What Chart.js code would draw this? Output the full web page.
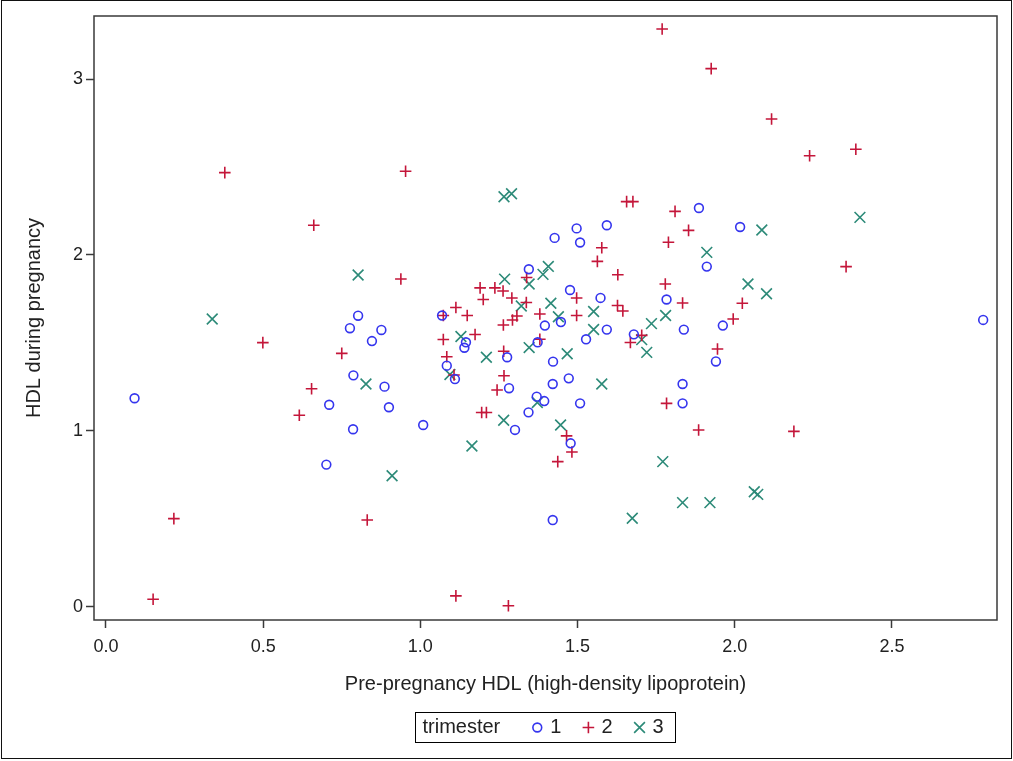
<!DOCTYPE html>
<html>
<head>
<meta charset="utf-8">
<title>HDL before and during pregnancy</title>
<script src="https://cdn.jsdelivr.net/npm/chart.js"></script>
<style>
  html, body { margin: 0; padding: 0; background: #fff; }
  #wrap { width: 1013px; height: 761px; }
</style>
</head>
<body>
<div id="wrap"><canvas id="hdlScatter" width="1013" height="761"></canvas></div>
<script>
// groups shown in the legend
const trimesters = ['1', '2', '3'];

// trimester 1 (pre-pregnancy HDL, HDL during pregnancy)
const tri1X = [0.091, 0.701, 0.710, 0.787, 0.776, 0.802, 0.786, 0.846, 0.876, 0.886, 0.900, 1.009, 1.069, 1.084, 1.110, 1.140, 1.145, 1.276, 1.282, 1.301, 1.345, 1.373, 1.396, 1.422, 1.421, 1.370, 1.394, 1.344, 1.427, 1.447, 1.476, 1.497, 1.508, 1.593, 1.573, 1.593, 1.527, 1.679, 1.472, 1.508, 1.478, 1.421, 1.783, 1.838, 1.834, 1.834, 1.886, 1.911, 1.962, 1.940, 2.017, 2.790];
const tri1Y = [1.186, 0.809, 1.149, 1.316, 1.584, 1.655, 1.010, 1.511, 1.574, 1.252, 1.135, 1.034, 1.656, 1.371, 1.295, 1.473, 1.504, 1.419, 1.243, 1.006, 1.919, 1.504, 1.599, 1.394, 1.267, 1.195, 1.170, 1.106, 2.097, 1.619, 1.801, 2.151, 2.071, 2.169, 1.756, 1.576, 1.521, 1.549, 1.299, 1.157, 0.930, 0.494, 1.747, 1.576, 1.267, 1.157, 2.267, 1.934, 1.599, 1.395, 2.159, 1.631];

// trimester 2
const tri2X = [0.150, 0.216, 0.378, 0.499, 0.615, 0.654, 0.661, 0.750, 0.831, 0.938, 0.953, 1.073, 1.073, 1.084, 1.107, 1.113, 1.113, 1.149, 1.174, 1.190, 1.200, 1.195, 1.210, 1.237, 1.263, 1.291, 1.244, 1.264, 1.265, 1.266, 1.280, 1.293, 1.307, 1.338, 1.337, 1.380, 1.380, 1.437, 1.465, 1.482, 1.497, 1.497, 1.563, 1.577, 1.628, 1.627, 1.644, 1.656, 1.676, 1.668, 1.704, 1.769, 1.779, 1.783, 1.789, 1.810, 1.834, 1.853, 1.885, 1.925, 1.945, 1.995, 2.024, 2.117, 2.188, 2.238, 2.354, 2.385];
const tri2Y = [0.044, 0.502, 2.468, 1.502, 1.089, 1.240, 2.169, 1.441, 0.494, 1.864, 2.476, 1.520, 1.656, 1.422, 1.318, 1.702, 0.063, 1.656, 1.548, 1.813, 1.747, 1.105, 1.105, 1.813, 1.795, 1.756, 1.233, 1.602, 1.453, 1.314, 0.007, 1.631, 1.653, 1.872, 1.730, 1.665, 1.521, 0.826, 0.972, 0.881, 1.756, 1.656, 1.964, 2.041, 1.888, 1.713, 1.682, 2.303, 2.303, 1.503, 1.543, 3.284, 1.835, 1.157, 2.072, 2.248, 1.727, 2.140, 1.006, 3.059, 1.466, 1.636, 1.726, 2.773, 0.998, 2.564, 1.934, 2.601];

// trimester 3
const tri3X = [0.338, 0.802, 0.827, 0.910, 1.094, 1.129, 1.164, 1.210, 1.266, 1.290, 1.268, 1.265, 1.321, 1.346, 1.346, 1.372, 1.390, 1.407, 1.415, 1.439, 1.446, 1.467, 1.551, 1.551, 1.577, 1.674, 1.704, 1.720, 1.735, 1.780, 1.771, 1.834, 1.911, 1.921, 2.042, 2.062, 2.073, 2.086, 2.101, 2.398];
const tri3Y = [1.636, 1.886, 1.267, 0.746, 1.321, 1.537, 0.915, 1.419, 2.331, 2.348, 1.863, 1.061, 1.710, 1.835, 1.474, 1.162, 1.890, 1.935, 1.726, 1.649, 1.034, 1.439, 1.679, 1.577, 1.267, 0.504, 1.519, 1.447, 1.610, 1.656, 0.826, 0.593, 2.015, 0.593, 1.835, 0.655, 0.640, 2.142, 1.780, 2.214];

const xTicks = [0, 0.5, 1, 1.5, 2, 2.5];
const yTicks = [0, 1, 2, 3];

const FONT = "'Liberation Sans', Arial, sans-serif";
const INK = '#222';

// marker look per trimester
const markerStyles = [
    { pointStyle: 'circle',   radius: 4.4, color: '#3535ee', width: 1.6 },
    { pointStyle: 'cross',    radius: 5.8, color: '#c4163a', width: 1.6 },
    { pointStyle: 'crossRot', radius: 7.6, color: '#2c8a78', width: 1.6 }
];

const toPoints = (xs, ys) => xs.map((x, i) => ({ x: x, y: ys[i] }));
const seriesX = [tri1X, tri2X, tri3X];
const seriesY = [tri1Y, tri2Y, tri3Y];

// plot frame + outer picture border
const framePlugin = {
    id: 'frame',
    afterDraw(chart) {
        const { ctx, chartArea: a } = chart;
        ctx.save();
        ctx.strokeStyle = '#3a3a3a';
        ctx.lineWidth = 1.5;
        ctx.strokeRect(a.left, a.top, a.right - a.left, a.bottom - a.top);
        ctx.strokeStyle = '#111';
        ctx.lineWidth = 1;
        ctx.strokeRect(1.5, 0.5, chart.width - 3, chart.height - 3);
        ctx.restore();
    }
};

function drawMarker(ctx, style, x, y) {
    const r = style.radius;
    ctx.save();
    ctx.strokeStyle = style.color;
    ctx.lineWidth = style.width;
    ctx.beginPath();
    if (style.pointStyle === 'circle') {
        ctx.arc(x, y, r, 0, Math.PI * 2);
    } else if (style.pointStyle === 'cross') {
        ctx.moveTo(x - r, y); ctx.lineTo(x + r, y);
        ctx.moveTo(x, y - r); ctx.lineTo(x, y + r);
    } else {
        const d = r * Math.SQRT1_2;
        ctx.moveTo(x - d, y - d); ctx.lineTo(x + d, y + d);
        ctx.moveTo(x + d, y - d); ctx.lineTo(x - d, y + d);
    }
    ctx.stroke();
    ctx.restore();
}

// boxed inline legend under the x axis title
const trimesterLegend = {
    id: 'trimesterLegend',
    afterDraw(chart) {
        const { ctx, chartArea: a } = chart;
        const title = 'trimester';
        ctx.save();
        ctx.font = '20px ' + FONT;
        ctx.textBaseline = 'middle';
        ctx.fillStyle = INK;

        const padL = 7, padR = 12, titleGap = 37, markToLabel = 13, labelToMark = 27;
        let total = padL + ctx.measureText(title).width + titleGap;
        trimesters.forEach((t, i) => {
            total += markToLabel + ctx.measureText(t).width;
            total += (i < trimesters.length - 1) ? labelToMark : padR;
        });

        const boxH = 30;
        const boxY = 712;
        const boxX = Math.round((a.left + a.right) / 2 - total / 2) + 0.5;
        const midY = boxY + boxH / 2 + 0.5;

        ctx.strokeStyle = '#000';
        ctx.lineWidth = 1;
        ctx.strokeRect(boxX, boxY + 0.5, Math.round(total), boxH);

        let cx = boxX + padL;
        ctx.fillText(title, cx, midY);
        cx += ctx.measureText(title).width + titleGap;
        trimesters.forEach((t, i) => {
            drawMarker(ctx, markerStyles[i], cx, midY);
            ctx.fillStyle = INK;
            ctx.fillText(t, cx + markToLabel, midY);
            cx += markToLabel + ctx.measureText(t).width + labelToMark;
        });
        ctx.restore();
    }
};

new Chart(document.getElementById('hdlScatter').getContext('2d'), {
    type: 'scatter',
    data: {
        datasets: trimesters.map((t, i) => ({
            label: t,
            data: toPoints(seriesX[i], seriesY[i]),
            pointStyle: markerStyles[i].pointStyle,
            pointRadius: markerStyles[i].radius,
            pointBorderWidth: markerStyles[i].width,
            pointBorderColor: markerStyles[i].color,
            pointBackgroundColor: 'rgba(0,0,0,0)',
            showLine: false
        }))
    },
    options: {
        responsive: false,
        animation: false,
        devicePixelRatio: 1,
        events: [],
        layout: { padding: { left: 0, top: 16, right: 16, bottom: 65 } },
        plugins: { legend: { display: false }, tooltip: { enabled: false } },
        scales: {
            x: {
                type: 'linear',
                min: -0.038,
                max: 2.834,
                afterFit: s => { s.height = 76; },
                afterBuildTicks: s => { s.ticks = xTicks.map(v => ({ value: v })); },
                border: { display: false },
                grid: { drawOnChartArea: false, drawTicks: true, tickLength: 8, tickWidth: 1.5, color: '#3a3a3a' },
                ticks: { padding: 8, color: INK, font: { family: FONT, size: 18 }, callback: v => v.toFixed(1) },
                title: { display: true, text: 'Pre-pregnancy HDL (high-density lipoprotein)', color: INK,
                         font: { family: FONT, size: 20 }, padding: { top: 0, bottom: 0 } }
            },
            y: {
                type: 'linear',
                min: -0.074,
                max: 3.358,
                afterFit: s => { s.width = 94; },
                afterBuildTicks: s => { s.ticks = yTicks.map(v => ({ value: v })); },
                border: { display: false },
                grid: { drawOnChartArea: false, drawTicks: true, tickLength: 8, tickWidth: 1.5, color: '#3a3a3a' },
                ticks: { padding: 3, color: INK, font: { family: FONT, size: 18 }, callback: v => String(v) },
                title: { display: true, text: 'HDL during pregnancy', color: INK,
                         font: { family: FONT, size: 20 }, padding: { top: 22, bottom: 0 } }
            }
        }
    },
    plugins: [framePlugin, trimesterLegend]
});
</script>
</body>
</html>
